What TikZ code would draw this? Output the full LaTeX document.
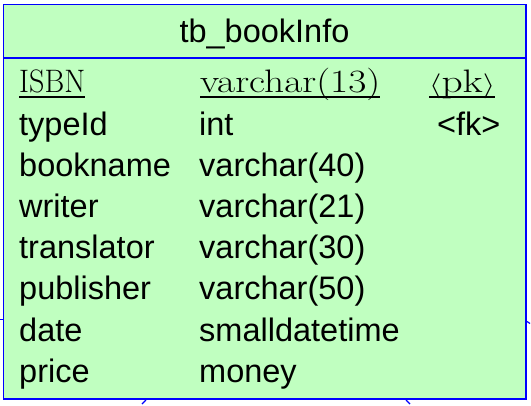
\documentclass[tikz,border=0pt]{standalone}
\usepackage{fontspec}
\setmainfont{Liberation Sans}
\newfontfamily\lmr{Latin Modern Roman}
\usepackage{graphicx}
\definecolor{tblfill}{RGB}{192,255,192}
\definecolor{tblline}{RGB}{0,0,255}
\begin{document}
\begin{tikzpicture}[x=1pt,y=-1pt,
  tablebox/.style={draw=tblline,fill=tblfill,line width=1.3pt},
  sepline/.style={draw=tblline,line width=1.3pt},
  cell/.style={anchor=base west,inner sep=0pt,font=\fontsize{32.5}{36}\selectfont},
  keycell/.style={anchor=base west,inner sep=0pt,font=\fontsize{32.5}{36}\selectfont\lmr},
  uline/.style={draw=black,line width=2pt},
  stub/.style={draw=tblline,line width=1.2pt}]
\useasboundingbox (0,0) rectangle (531,405);
% box
\path[tablebox] (3.5,4.5) rectangle (526,399);
\draw[sepline] (3.5,58) -- (526,58);
% title
\node[anchor=base,inner sep=0pt,font=\fontsize{32.5}{36}\selectfont] (title) at (264.5,42) {tb\_bookInfo};
% key row
\node[keycell] (k1) at (19,92) {\resizebox{66pt}{\height}{ISBN}};
\node[keycell] (k2) at (200,92) {\resizebox{180pt}{\height}{varchar(13)}};
\node[keycell] (k3) at (429,92) {\resizebox{66pt}{\height}{$\langle$pk$\rangle$}};
\draw[uline] ([yshift=-5pt]k1.base west) -- ([yshift=-5pt]k1.base east);
\draw[uline] ([yshift=-5pt]k2.base west) -- ([yshift=-5pt]k2.base east);
\draw[uline] ([yshift=-5pt]k3.base west) -- ([yshift=-5pt]k3.base east);
% other rows
\node[cell] (n2) at (19,135) {typeId};
\node[cell] (t2) at (199,135) {int};
\node[cell] (f2) at (437,135) {<fk>};
\node[cell] (n3) at (19,176) {bookname};
\node[cell] (t3) at (199,176) {varchar(40)};
\node[cell] (n4) at (19,217) {writer};
\node[cell] (t4) at (199,217) {varchar(21)};
\node[cell] (n5) at (19,258) {translator};
\node[cell] (t5) at (199,258) {varchar(30)};
\node[cell] (n6) at (19,299) {publisher};
\node[cell] (t6) at (199,299) {varchar(50)};
\node[cell] (n7) at (19,341) {date};
\node[cell] (t7) at (199,341) {smalldatetime};
\node[cell] (n8) at (19,382) {price};
\node[cell] (t8) at (199,382) {money};
% connector stubs
\coordinate (sl1) at (0,319.5);
\coordinate (sl2) at (3,319.5);
\coordinate (sr1) at (527,321.5);
\coordinate (sr2) at (530,323.5);
\coordinate (sb1) at (146,400);
\coordinate (sb2) at (142,404);
\coordinate (sc1) at (406,400);
\coordinate (sc2) at (410,404);
\draw[stub] (sl1) -- (sl2);
\draw[stub] (sr1) -- (sr2);
\draw[stub] (sb1) -- (sb2);
\draw[stub] (sc1) -- (sc2);
\end{tikzpicture}
\end{document}
